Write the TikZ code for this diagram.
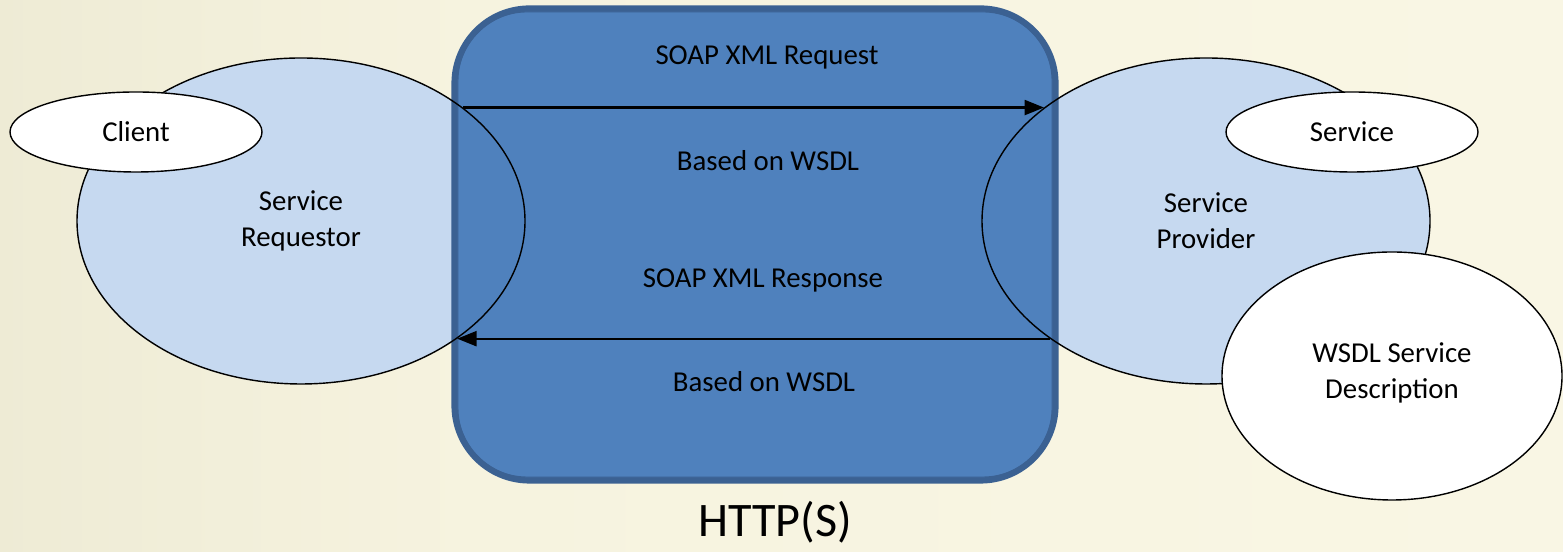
\documentclass[tikz,border=0pt]{standalone}
\usepackage{fontspec}
\setmainfont{Carlito}
\usetikzlibrary{shapes.geometric,arrows.meta,positioning}
\definecolor{bgleft}{HTML}{E1DEC5}
\definecolor{bgmid}{HTML}{F6F3DF}
\definecolor{bgright}{HTML}{FCF9E8}
\definecolor{linkblue}{HTML}{4F81BD}
\definecolor{linkedge}{HTML}{3B6192}
\definecolor{partyblue}{HTML}{C6D9F0}
\pgfdeclarehorizontalshading{bgshade}{100bp}{color(0bp)=(bgleft); color(40bp)=(bgmid); color(100bp)=(bgright)}
\tikzset{
	party/.style={ellipse, minimum width=8.96cm, minimum height=6.52cm, align=center, inner sep=0pt},
	partyfill/.style={party, fill=partyblue},
	partyline/.style={party, draw=black, line width=0.8pt},
	role/.style={ellipse, draw=black, line width=0.8pt, fill=white, align=center, inner sep=0pt},
	msg/.style={anchor=base, inner sep=0pt},
	linkbox/.style={rectangle, draw=linkedge, line width=3.5pt, fill=linkblue, rounded corners=1.5cm, minimum width=12.02cm, minimum height=9.44cm},
}
\begin{document}
\begin{tikzpicture}[line join=round, >={Triangle[length=11pt,width=8.5pt]}, font=\fontsize{16.4}{20.4}\selectfont]
	\shade[shading=bgshade] (0,0) rectangle (31.26,11.04);
	\useasboundingbox (0,0) rectangle (31.26,11.04);
	\node[partyfill] (reqfill) at (6.02,6.62) {};
	\node[partyfill] (provfill) at (24.12,6.62) {};
	\node[linkbox] (link) at (15.10,6.15) {};
	\draw[linkedge, line width=0.6pt, rounded corners=1.38cm] ([shift={(0.13,-0.13)}]link.north west) rectangle ([shift={(-0.13,0.13)}]link.south east);
	\node[partyline] (req) at (reqfill) {Service\\Requestor};
	\node[partyline] (prov) at (provfill) {Service\\Provider};
	\node[role, minimum width=5.04cm, minimum height=1.6cm] (client) at (2.72,8.4) {Client};
	\node[role, minimum width=5.04cm, minimum height=1.6cm] (service) at (27.04,8.4) {Service};
	\node[role, minimum width=6.8cm, minimum height=4.96cm] (wsdl) at (27.84,3.52) {WSDL Service\\Description\\[-0.5cm]};
	\draw[->, line width=1.3pt] (req.35) -- (prov.145);
	\draw[->, line width=1.3pt] (prov.217) -- (req.-37);
	\node[msg] (request) at (15.34,9.74) {SOAP XML Request};
	\node[msg] (reqbase) at (15.36,7.62) {Based on WSDL};
	\node[msg] (response) at (15.26,5.28) {SOAP XML Response};
	\node[msg] (respbase) at (15.28,3.2) {Based on WSDL};
	\node[msg, font=\fontsize{27.4}{32}\selectfont] (http) at (15.5,0.3) {HTTP(S)};
\end{tikzpicture}
\end{document}
